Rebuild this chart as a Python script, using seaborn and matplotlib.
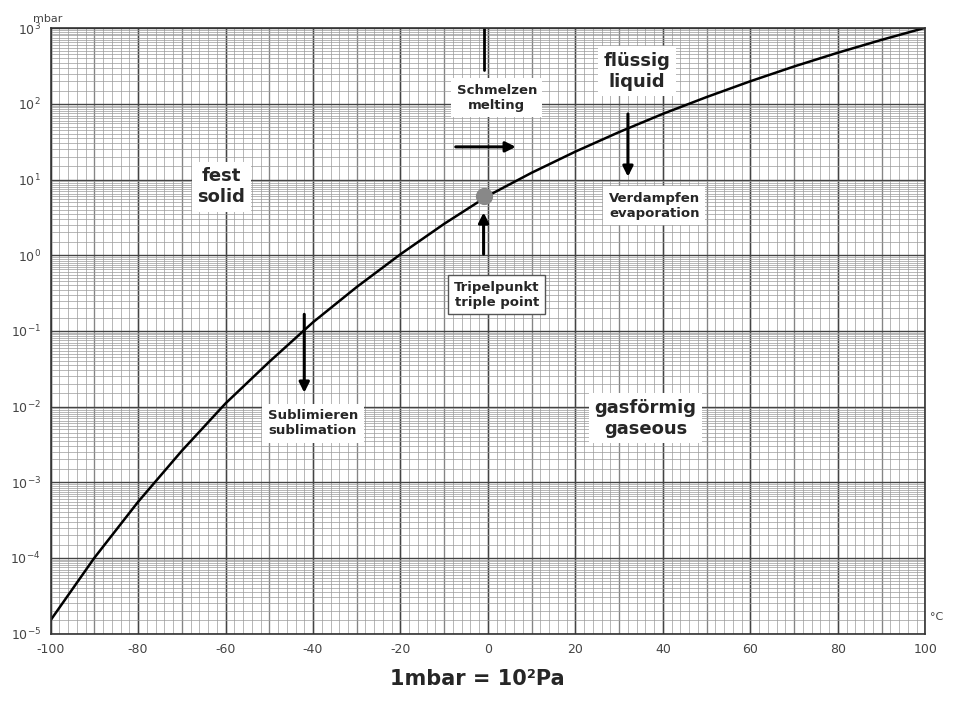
import matplotlib.pyplot as plt
import seaborn as sns
import numpy as np
import pandas as pd
from matplotlib.ticker import MultipleLocator, LogLocator, NullFormatter

# vapour pressure curve
temps = [-100, -90, -80, -70, -60, -50, -40, -30, -20, -10, 0, 10, 20, 30, 40, 50, 60, 70, 80, 90, 100]
press = [1.5e-5, 1.0e-4, 5.5e-4, 2.6e-3, 1.1e-2, 3.9e-2, 0.13, 0.38, 1.03, 2.6, 6.1, 12.3, 23.4, 42.4, 73.8, 123, 199, 312, 474, 701, 1013]

df = pd.DataFrame({'T': temps, 'p': press})

sns.set_style('white')
plt.rcParams['font.family'] = ['DejaVu Sans']

fig = plt.figure(figsize=(9.54, 7.04), dpi=100)
ax = fig.add_axes([0.053, 0.1, 0.917, 0.86])
sns.lineplot(data=df, x='T', y='p', color='black', linewidth=1.8, ax=ax)
ax.set_yscale('log')
ax.set_xlim(-100, 100)
ax.set_ylim(1e-5, 1e3)

ax.xaxis.set_major_locator(MultipleLocator(20))
ax.xaxis.set_minor_locator(MultipleLocator(2))
ax.yaxis.set_major_locator(LogLocator(base=10, numticks=20))
ax.yaxis.set_minor_locator(LogLocator(base=10, subs=np.arange(1.5, 10, 0.5), numticks=200))
ax.yaxis.set_minor_formatter(NullFormatter())
ax.grid(which='minor', color='#9a9a9a', linewidth=0.5)
ax.grid(which='major', color='#444444', linewidth=1.0)
for x in range(-100, 101, 10):
    ax.axvline(x, color='#555555', linewidth=0.9, zorder=0)
ax.set_xticks(range(-100, 101, 20))
ax.set_xticklabels([str(t) for t in range(-100, 101, 20)], fontsize=9, color='#444444')
ax.set_yticks([10.0 ** e for e in range(-5, 4)])
ax.set_yticklabels([f'$10^{{{e}}}$' for e in range(-5, 4)], fontsize=9, color='#444444')
ax.tick_params(which='minor', length=0)
ax.set_xlabel('')
ax.set_ylabel('')
for s in ax.spines.values():
    s.set_color('#333333')
    s.set_linewidth(1.2)

ax.text(-104, 1.2e3, 'mbar', fontsize=8, color='#444444')
ax.text(101, 1.5e-5, '°C', fontsize=8, color='#444444')

box = dict(facecolor='white', edgecolor='none', pad=4)
kw = dict(ha='center', va='center', fontweight='bold', bbox=box, zorder=5)
ax.text(-61, 8, 'fest\nsolid', fontsize=13, **kw)
ax.text(34, 270, 'flüssig\nliquid', fontsize=13, **kw)
ax.text(36, 7e-3, 'gasförmig\ngaseous', fontsize=13, **kw)
ax.text(-40, 6e-3, 'Sublimieren\nsublimation', fontsize=9.5, **kw)
ax.text(2, 120, 'Schmelzen\nmelting', fontsize=9.5, **kw)
ax.text(38, 4.5, 'Verdampfen\nevaporation', fontsize=9.5, **kw)
ax.text(2, 0.3, 'Tripelpunkt\ntriple point', fontsize=9.5, ha='center', va='center',
        fontweight='bold', zorder=5, bbox=dict(facecolor='white', edgecolor='#555555', pad=4))

ax.scatter([-1], [6.1], s=130, color='#888888', zorder=6)
ax.axvline(-1, ymin=(2.45 + 5) / 8, ymax=1, color='black', linewidth=2)
arrow = dict(arrowstyle='-|>', color='black', lw=2.2, mutation_scale=15)
ax.annotate('', xy=(7, 27), xytext=(-8, 27), arrowprops=arrow, zorder=6)
ax.annotate('', xy=(-1, 4), xytext=(-1, 0.95), arrowprops=arrow, zorder=6)
ax.annotate('', xy=(32, 10), xytext=(32, 80), arrowprops=arrow, zorder=6)
ax.annotate('', xy=(-42, 0.014), xytext=(-42, 0.18), arrowprops=arrow, zorder=6)

fig.text(0.5, 0.035, '1mbar = 10²Pa', ha='center', va='center', fontsize=15, fontweight='bold')

fig.savefig('out.png', dpi=100)
